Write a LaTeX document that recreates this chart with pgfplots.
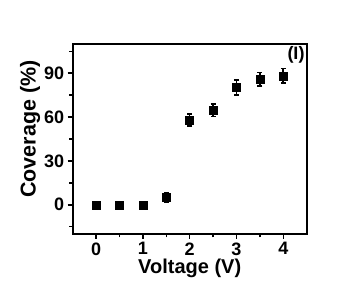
\documentclass[border=0pt]{standalone}
\usepackage{pgfplots}
\pgfplotsset{compat=1.18}
\usepackage{fontspec}
\setmainfont{Liberation Sans}
\begin{document}
\begin{tikzpicture}
\begin{axis}[
  name=ax,
  scale only axis,
  width=234pt, height=190pt,
  xmin=-0.5, xmax=4.5,
  ymin=-20, ymax=110,
  xtick={0,1,2,3,4},
  ytick={0,30,60,90},
  minor xtick={0.5,1.5,2.5,3.5},
  minor ytick={-15,15,45,75,105},
  xtick pos=bottom, ytick pos=left,
  tick align=outside,
  major tick length=5pt,
  minor tick length=3.5pt,
  axis line style={line width=1.8pt},
  every tick/.style={black, line width=1.5pt},
  /pgf/number format/assume math mode=true,
  ticklabel style={font=\fontsize{18}{18}\selectfont\bfseries},
  xlabel={Voltage (V)},
  ylabel={Coverage (\%)},
  xlabel style={font=\fontsize{20}{20}\selectfont\bfseries, yshift=3pt},
  ylabel style={font=\fontsize{21.5}{21.5}\selectfont\bfseries, yshift=-3pt, xshift=10pt},
  clip=false,
]
\addplot+[only marks, black, mark=square*, mark size=4pt,
  mark options={fill=black, draw=black},
  error bars/.cd, y dir=both, y explicit,
  error bar style={line width=1.6pt, black},
  error mark options={rotate=90, mark size=2.5pt, line width=1.6pt, black}]
  coordinates {
  (0,0) +- (0,0.5)
  (0.5,0) +- (0,0.5)
  (1,0) +- (0,0.5)
  (1.5,5) +- (0,3.4)
  (2,57.9) +- (0,4.2)
  (2.5,64.7) +- (0,4.2)
  (3,80.2) +- (0,5)
  (3.5,86) +- (0,4.6)
  (4,88.2) +- (0,5)
  };
\node[anchor=north east, inner sep=2pt, font=\fontsize{18}{18}\selectfont\bfseries] at (rel axis cs:1,1) {(I)};
\end{axis}
\path[use as bounding box] ([xshift=-72.7pt,yshift=-66pt]ax.south west) rectangle ++(349pt,300pt);
\end{tikzpicture}
\end{document}
